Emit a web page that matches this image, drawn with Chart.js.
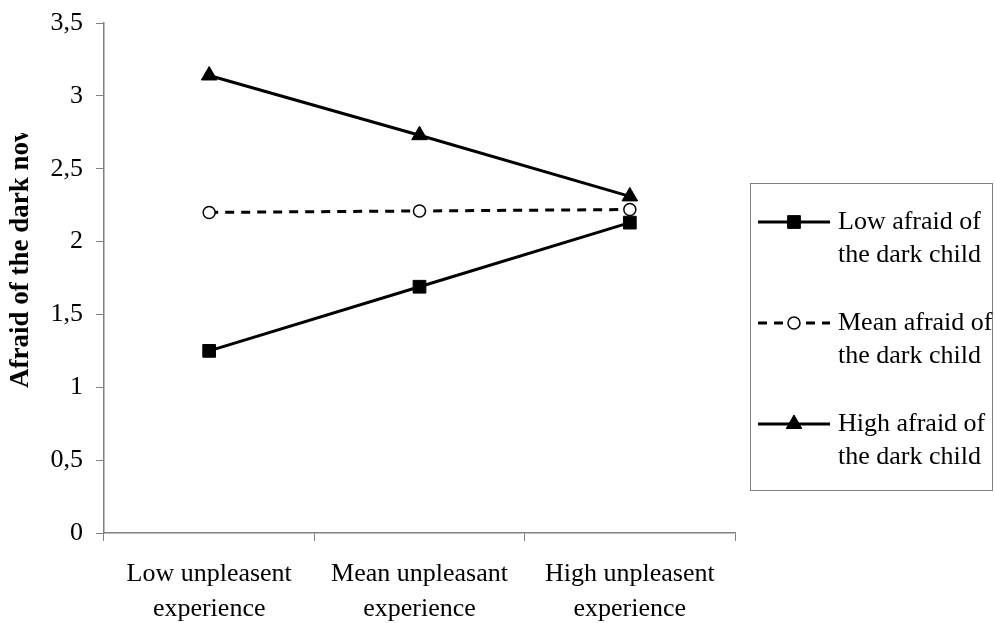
<!DOCTYPE html>
<html>
<head>
<meta charset="utf-8">
<script src="https://cdn.jsdelivr.net/npm/chart.js@4.4.0/dist/chart.umd.min.js"></script>
<style>
  html, body { margin: 0; padding: 0; background: #fff; }
  #wrap { width: 995px; height: 623px; position: relative; }
</style>
</head>
<body>
<div id="wrap"><canvas id="chart" width="995" height="623"></canvas></div>
<script>
// Données
const categories = [
  ["Low unpleasent", "experience"],
  ["Mean unpleasant", "experience"],
  ["High unpleasent", "experience"]
];
const lowAfraid = [1.25, 1.69, 2.13];
const meanAfraid = [2.20, 2.21, 2.22];
const highAfraid = [3.14, 2.73, 2.31];
const seriesLabels = [
  ["Low afraid of", "the dark child"],
  ["Mean afraid of", "the dark child"],
  ["High afraid of", "the dark child"]
];
const yTitle = "Afraid of the dark now";

const FONT = "'Liberation Serif', 'Times New Roman', serif";

// Titre de l'axe Y, coupé en haut comme dans l'original
const yTitlePlugin = {
  id: 'yTitle',
  afterDraw(chart) {
    const ctx = chart.ctx;
    ctx.save();
    ctx.beginPath();
    ctx.rect(0, 133, 60, 400);
    ctx.clip();
    ctx.translate(21, 388);
    ctx.rotate(-Math.PI / 2);
    ctx.font = "bold 27px " + FONT;
    ctx.fillStyle = '#000';
    ctx.textAlign = 'left';
    ctx.textBaseline = 'middle';
    ctx.fillText(yTitle, 0, 0);
    ctx.restore();
  }
};

// Légende encadrée à droite, avec libellés sur deux lignes
const boxLegendPlugin = {
  id: 'boxLegend',
  afterDraw(chart) {
    const ctx = chart.ctx;
    ctx.save();
    ctx.strokeStyle = '#808080';
    ctx.lineWidth = 1;
    ctx.strokeRect(750.5, 183.5, 242, 307);
    const rowsY = [222, 323, 424];
    chart.data.datasets.forEach((ds, i) => {
      const y = rowsY[i];
      ctx.save();
      ctx.strokeStyle = ds.borderColor;
      ctx.lineWidth = ds.borderWidth;
      ctx.setLineDash(ds.borderDash || []);
      ctx.beginPath();
      ctx.moveTo(758, y);
      ctx.lineTo(830, y);
      ctx.stroke();
      ctx.restore();
      ctx.save();
      ctx.fillStyle = ds.pointBackgroundColor;
      ctx.strokeStyle = ds.pointBorderColor;
      ctx.lineWidth = ds.pointBorderWidth;
      Chart.helpers.drawPoint(ctx, {
        pointStyle: ds.pointStyle,
        rotation: 0,
        radius: ds.pointRadius,
        borderWidth: ds.pointBorderWidth
      }, 794, y);
      ctx.restore();
      ctx.fillStyle = '#000';
      ctx.font = "26px " + FONT;
      ctx.textAlign = 'left';
      ctx.textBaseline = 'middle';
      seriesLabels[i].forEach((line, j) => {
        ctx.fillText(line, 838, y + j * 33);
      });
    });
    ctx.restore();
  }
};

const chart = new Chart(document.getElementById('chart'), {
  type: 'line',
  data: {
    labels: categories,
    datasets: [
      {
        label: seriesLabels[0].join(' '),
        data: lowAfraid,
        borderColor: '#000',
        borderWidth: 3,
        pointStyle: 'rect',
        pointRadius: 9,
        pointBackgroundColor: '#000',
        pointBorderColor: '#000',
        pointBorderWidth: 1
      },
      {
        label: seriesLabels[1].join(' '),
        data: meanAfraid,
        borderColor: '#000',
        borderWidth: 3,
        borderDash: [9, 7],
        pointStyle: 'circle',
        pointRadius: 6,
        pointBackgroundColor: '#fff',
        pointBorderColor: '#000',
        pointBorderWidth: 1.5
      },
      {
        label: seriesLabels[2].join(' '),
        data: highAfraid,
        borderColor: '#000',
        borderWidth: 3,
        pointStyle: 'triangle',
        pointRadius: 9,
        pointBackgroundColor: '#000',
        pointBorderColor: '#000',
        pointBorderWidth: 1
      }
    ]
  },
  options: {
    responsive: false,
    animation: false,
    layout: { padding: { top: 23, right: 260, left: 0, bottom: 0 } },
    scales: {
      x: {
        offset: true,
        grid: {
          offset: true,
          drawOnChartArea: false,
          drawTicks: true,
          tickLength: 8,
          color: '#808080'
        },
        border: { color: '#808080', width: 1.5 },
        ticks: {
          color: '#000',
          font: { family: FONT, size: 26, lineHeight: 1.35 },
          padding: 16,
          maxRotation: 0
        },
        afterFit(scale) { scale.height = 90; }
      },
      y: {
        min: 0,
        max: 3.5,
        grid: {
          drawOnChartArea: false,
          drawTicks: true,
          tickLength: 8,
          color: '#808080'
        },
        border: { color: '#808080', width: 1.5 },
        ticks: {
          stepSize: 0.5,
          color: '#000',
          font: { family: FONT, size: 26 },
          padding: 13,
          callback: v => String(v).replace('.', ',')
        },
        afterFit(scale) {
          scale.width = 104;
          scale.paddingTop = 0;
          scale.paddingBottom = 0;
        }
      }
    },
    plugins: {
      legend: { display: false },
      tooltip: { enabled: false }
    }
  },
  plugins: [yTitlePlugin, boxLegendPlugin]
});
</script>
</body>
</html>
